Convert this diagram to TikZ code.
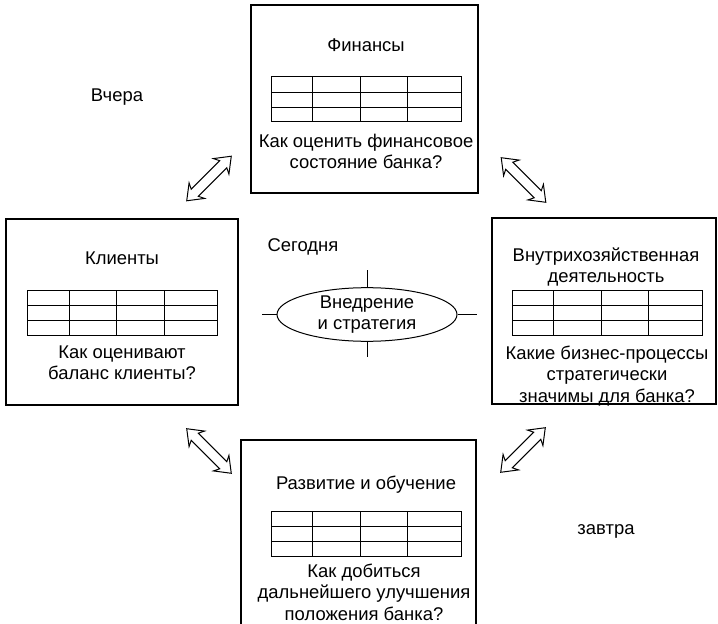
\documentclass[tikz,border=0pt]{standalone}
\usepackage{fontspec}
\setmainfont{Liberation Sans}
\usetikzlibrary{shapes.geometric, shapes.arrows, calc}
\tikzstyle{panel} = [draw, line width=1.2bp, inner sep=0pt]
\tikzstyle{lbl} = [font=\fontsize{18.5}{21.5}\selectfont, align=center, inner sep=0pt]
\tikzstyle{scoretable} = [draw, line width=1bp, minimum width=190bp, minimum height=45bp, inner sep=0pt,
  path picture={
    \foreach \f in {0.22,0.47,0.72}
      \draw[line width=1bp] ($(path picture bounding box.north west)!\f!(path picture bounding box.north east)$)
        -- ($(path picture bounding box.south west)!\f!(path picture bounding box.south east)$);
    \foreach \f in {0.34,0.67}
      \draw[line width=1bp] ($(path picture bounding box.north west)!\f!(path picture bounding box.south west)$)
        -- ($(path picture bounding box.north east)!\f!(path picture bounding box.south east)$);
  }]
\tikzstyle{twoway} = [double arrow, draw, line width=1bp, fill=white, inner xsep=0pt, inner ysep=4.5bp,
  minimum height=63bp, double arrow head extend=6bp,
  double arrow tip angle=75, double arrow head indent=3bp]

\begin{document}
\begin{tikzpicture}[x=1bp, y=-1bp]
      \useasboundingbox (0,0) rectangle (718,624);

      \node[panel, minimum width=227bp, minimum height=188bp] (fin) at (364.5, 99) {};
      \node[lbl] (fintitle) at (366, 45) {Финансы};
      \node[scoretable] (fintab) at (366, 99.5) {};
      \node[lbl] (finq) at (366, 151.5) {Как оценить финансовое\\состояние банка?};

      \node[panel, minimum width=232bp, minimum height=186bp] (cli) at (122, 312) {};
      \node[lbl] (clititle) at (122, 258) {Клиенты};
      \node[scoretable] (clitab) at (122.5, 312.5) {};
      \node[lbl] (cliq) at (122, 362.5) {Как оценивают\\баланс клиенты?};

      \node[panel, minimum width=224bp, minimum height=186bp] (ops) at (604, 311) {};
      \node[lbl] (opstitle) at (606, 267) {Внутрихозяйственная\\деятельность};
      \node[scoretable] (opstab) at (607, 312.5) {};
      \node[lbl] (opsq) at (607, 376) {Какие бизнес-процессы\\стратегически\\значимы для банка?};

      \node[panel, minimum width=235bp, minimum height=200bp] (dev) at (358.5, 540) {};
      \node[lbl] (devtitle) at (366, 485) {Развитие и обучение};
      \node[scoretable] (devtab) at (366, 534) {};
      \node[lbl] (devq) at (364, 592) {Как добиться\\дальнейшего улучшения\\положения банка?};

      \node[ellipse, draw, line width=1bp, lbl, minimum width=180bp, minimum height=45bp] (strat) at (367, 314.5) {Внедрение\\и стратегия};
      \coordinate (tickn) at (367, 270);
      \coordinate (ticks) at (367, 357);
      \coordinate (tickw) at (262, 314.5);
      \coordinate (ticke) at (477, 314.5);
      \draw[line width=1bp] (strat.north) -- (tickn);
      \draw[line width=1bp] (strat.south) -- (ticks);
      \draw[line width=1bp] (strat.west) -- (tickw);
      \draw[line width=1bp] (strat.east) -- (ticke);

      \node[lbl] (yesterday) at (117, 97) {Вчера};
      \node[lbl] (today) at (303, 247) {Сегодня};
      \node[lbl] (tomorrow) at (606, 531) {завтра};

      \node[twoway, rotate=45] (arrul) at (209, 178.5) {};
      \node[twoway, rotate=-45] (arrur) at (523.5, 180) {};
      \node[twoway, rotate=-45] (arrll) at (209, 451) {};
      \node[twoway, rotate=45] (arrlr) at (523, 450) {};
    \end{tikzpicture}
\end{document}
